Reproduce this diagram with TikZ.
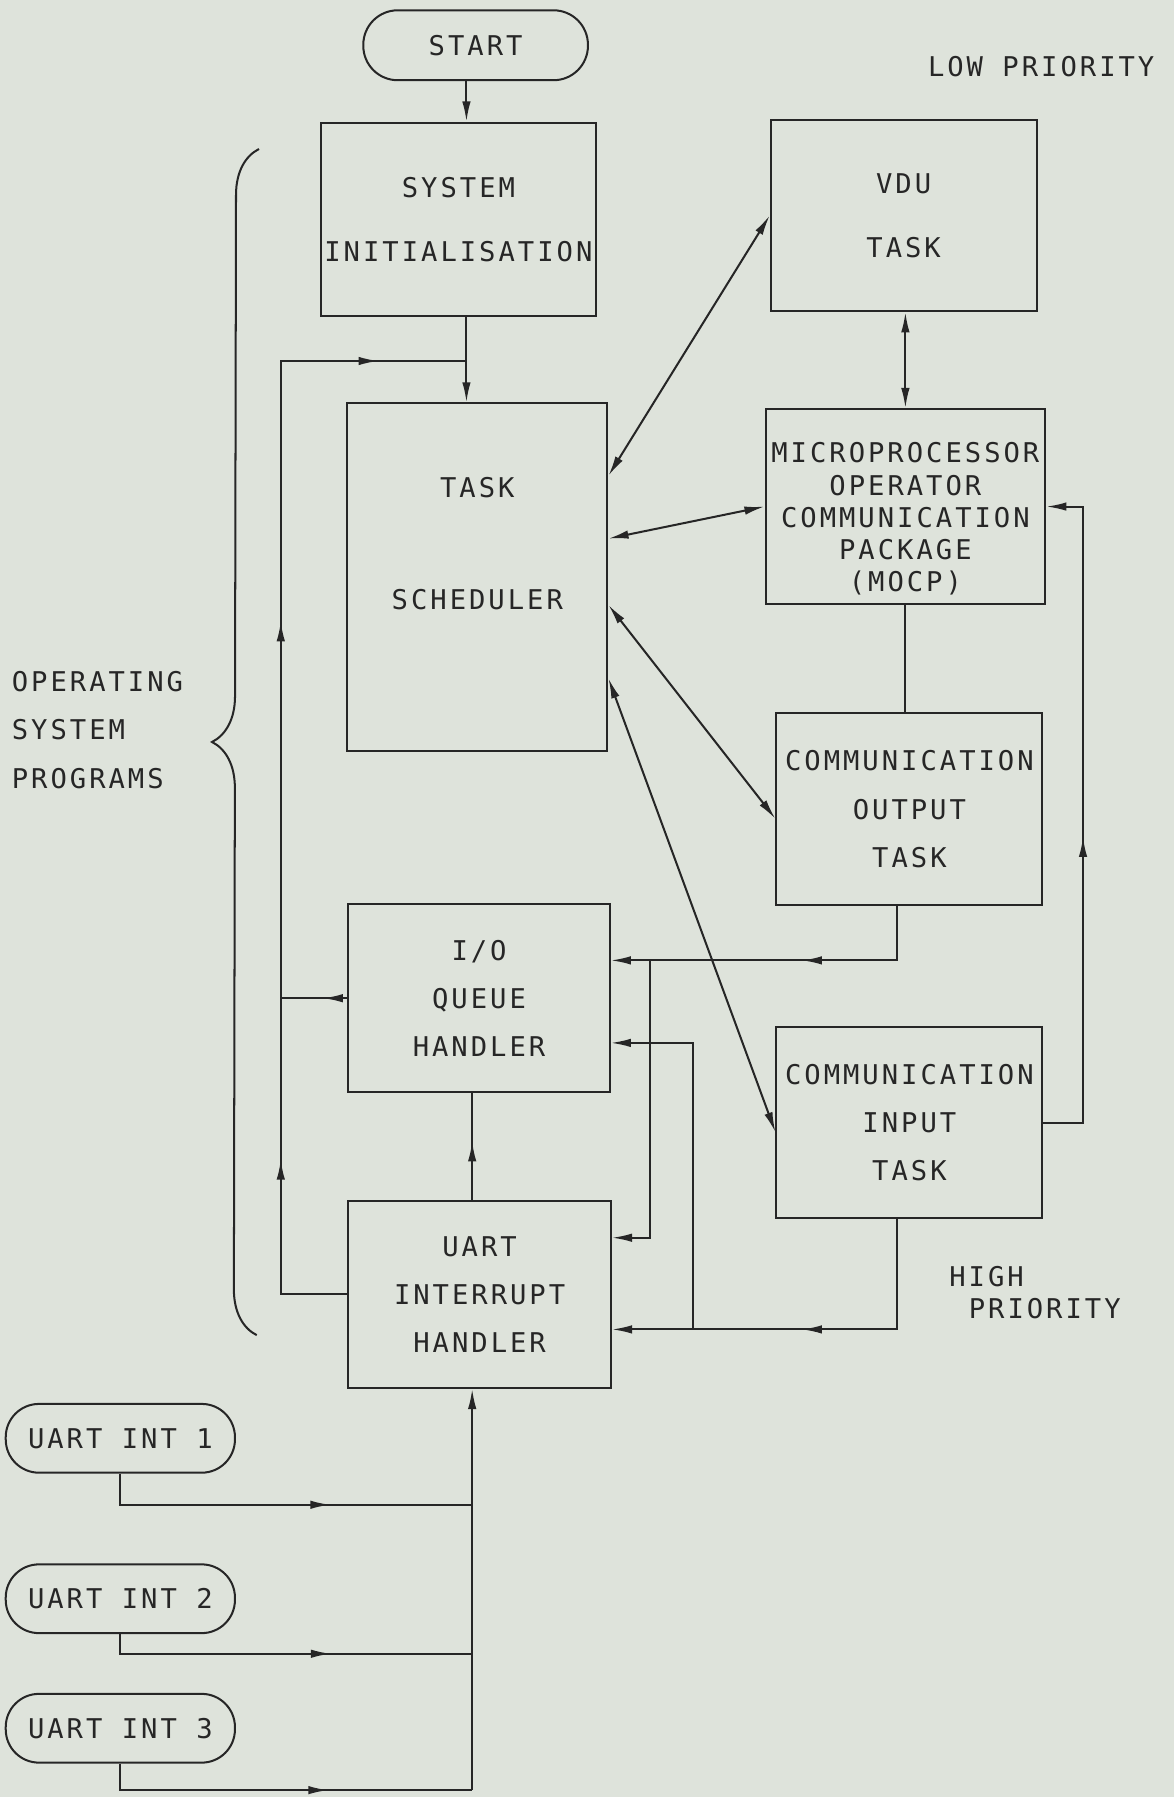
\documentclass[tikz,border=0pt]{standalone}
\usepackage{fontspec}
\newfontfamily\plotfont[LetterSpace=11]{DejaVu Sans Mono}
\usetikzlibrary{arrows.meta,calc,decorations.markings,decorations.pathreplacing}
\definecolor{paper}{RGB}{222,227,219}
\definecolor{ink}{RGB}{38,38,38}

\begin{document}
\begin{tikzpicture}[
        >={Latex[length=10pt,width=4.2pt]},
        every node/.style={font=\fontsize{13.5}{16}\selectfont\plotfont, text=ink},
        box/.style={draw=ink, line width=1pt, align=center, inner sep=0pt, minimum width=4.64cm, minimum height=3.34cm},
        term/.style={draw=ink, line width=1pt, rounded corners=0.58cm, inner sep=0pt, minimum width=4cm, minimum height=1.2cm},
        flow/.style={draw=ink, line width=1pt},
        midarr/.style={postaction={decorate, decoration={markings, mark=at position #1 with {\arrow{>}}}}},
        note/.style={align=left, inner sep=0pt},
    ]
        \path[fill=paper, use as bounding box] (0,0) rectangle (20.48,-31.36);

        \node[term, minimum width=3.92cm, minimum height=1.22cm, rounded corners=0.6cm] (start) at (8.30,-0.79) {START};
        \node[box, minimum width=4.8cm, minimum height=3.38cm] (sysinit) at (8.00,-3.83) {SYSTEM\\[15.9pt]INITIALISATION};
        \node[box] (vdu) at (15.77,-3.76) {VDU\\[15.9pt]TASK};
        \node[box, minimum width=4.54cm, minimum height=6.06cm] (sched) at (8.33,-10.07) {TASK\\[39.8pt]SCHEDULER\\[17.6pt]\mbox{}};
        \node[box, minimum width=4.88cm, minimum height=3.4cm] (mocp) at (15.80,-8.84) {\mbox{}\\[6.4pt]MICROPROCESSOR\\OPERATOR\\COMMUNICATION\\PACKAGE\\(MOCP)};
        \node[box] (outp) at (15.87,-14.12) {COMMUNICATION\\[7.9pt]OUTPUT\\[7.9pt]TASK};
        \node[box, minimum width=4.56cm, minimum height=3.28cm] (ioq) at (8.36,-17.42) {I/O\\[7.9pt]QUEUE\\[7.9pt]HANDLER};
        \node[box] (inp) at (15.87,-19.59) {COMMUNICATION\\[7.9pt]INPUT\\[7.9pt]TASK};
        \node[box, minimum width=4.58cm, minimum height=3.26cm] (uart) at (8.37,-22.59) {UART\\[7.9pt]INTERRUPT\\[7.9pt]HANDLER};

        \node[term] (int1) at (2.10,-25.10) {UART INT 1};
        \node[term] (int2) at (2.10,-27.90) {UART INT 2};
        \node[term] (int3) at (2.10,-30.16) {UART INT 3};

        \node[note] (lowp) at (18.17,-1.16) {LOW PRIORITY};
        \node[note, anchor=west] (highp) at (16.56,-22.56) {HIGH\\\hspace*{0.34cm}PRIORITY};
        \node[note, anchor=west] (osp) at (0.20,-12.74) {OPERATING\\[8.2pt]SYSTEM\\[8.2pt]PROGRAMS};

        \coordinate (trunk) at (8.14,-6.30);
        \coordinate (back) at (4.90,-6.30);
        \coordinate (rloop) at (18.90,-14.00);
        \coordinate (oq) at (15.66,-16.76);
        \coordinate (ob) at (11.34,-16.76);
        \coordinate (ub) at (11.34,-21.60);
        \coordinate (iq) at (15.66,-23.20);
        \coordinate (ib) at (12.10,-23.20);
        \coordinate (it) at (12.10,-18.20);
        \coordinate (j1) at (8.24,-26.26);
        \coordinate (j2) at (8.24,-28.86);
        \coordinate (j3) at (8.24,-31.24);

        \draw[flow, ->] (start.south -| trunk) -- (sysinit.north -| trunk);
        \draw[flow, ->] (sysinit.south -| trunk) -- (sched.north -| trunk);
        \draw[flow, midarr=0.17, midarr=0.624, midarr=0.926] (uart.west) -| (back) -- (trunk);
        \draw[flow, midarr=0.37] (ioq.west) -- (ioq.west -| back);
        \draw[flow, <->] ($(sched.north east)!0.21!(sched.south east)$) -- (vdu.west);
        \draw[flow, <->] ($(sched.north east)!0.39!(sched.south east)$) -- (mocp.west);
        \draw[flow, <->] ($(sched.north east)!0.58!(sched.south east)$) -- ($(outp.north west)!0.55!(outp.south west)$);
        \draw[flow, <->] ($(sched.north east)!0.79!(sched.south east)$) -- ($(inp.north west)!0.55!(inp.south west)$);
        \draw[flow, <->] (mocp.north) -- (mocp.north |- vdu.south);
        \draw[flow] (mocp.south) -- (mocp.south |- outp.north);
        \draw[flow, ->, midarr=0.47] (inp.east) -| (rloop) |- (mocp.east);
        \draw[flow, ->, midarr=0.44] (outp.south -| oq) -- (oq) -- (ioq.east |- oq);
        \draw[flow, ->] (ob) -- (ub) -- (uart.east |- ub);
        \draw[flow, ->, midarr=0.52] (inp.south -| iq) -- (iq) -- (uart.east |- iq);
        \draw[flow, ->] (ib) -- (it) -- (ioq.east |- it);
        \draw[flow, midarr=0.55] (uart.north -| j1) -- (ioq.south -| j1);
        \draw[flow, ->] (j3) -- (uart.south -| j3);
        \draw[flow, midarr=0.63] (int1.south) |- (j1);
        \draw[flow, midarr=0.62] (int2.south) |- (j2);
        \draw[flow, midarr=0.62] (int3.south) |- (j3);
        \draw[flow, decorate, decoration={brace, amplitude=0.8cm}] (4.48,-23.30) -- (4.52,-2.60);
    \end{tikzpicture}
\end{document}
